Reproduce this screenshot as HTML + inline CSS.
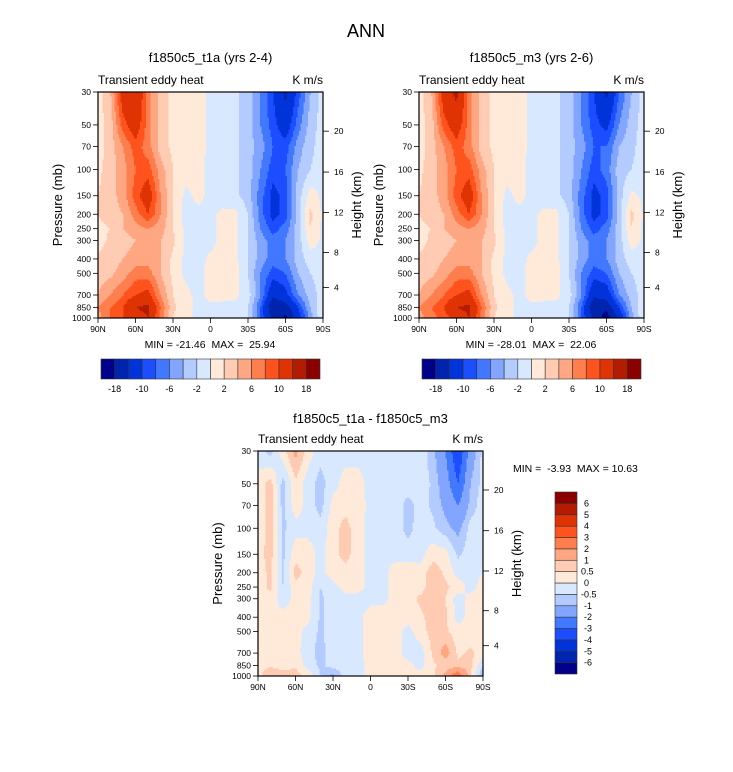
<!DOCTYPE html>
<html><head><meta charset="utf-8"><style>
body{margin:0;background:#fff}
svg{display:block;font-family:"Liberation Sans",Arial,sans-serif}
text{white-space:pre}
</style></head><body>
<svg id="fig" width="733" height="772" viewBox="0 0 733 772">
<text x="366" y="37" font-size="18" text-anchor="middle">ANN</text>
</svg>
<script>
const lats=["90N","80N","70N","60N","50N","40N","30N","20N","10N","0","10S","20S","30S","40S","50S","60S","70S","80S","90S"];
const plevs=[30,50,70,100,150,200,250,300,400,500,700,850,1000];
const pLabels=["30","50","70","100","150","200","250","300","400","500","700","850","1000"];
const latTicks=["90N","60N","30N","0","30S","60S","90S"];
const kmTicks=["4","8","12","16","20"];
const levelsMain=[-18,-14,-10,-8,-6,-4,-2,0,2,4,6,8,10,14,18];
const labelsMain=["-18","-10","-6","-2","2","6","10","18"];
const levelsDiff=[-6,-5,-4,-3,-2,-1,-0.5,0,0.5,1,2,3,4,5,6];
const labelsDiff=["6","5","4","3","2","1","0.5","0","-0.5","-1","-2","-3","-4","-5","-6"];
const colors=["#00008a","#0024ad","#0034db","#1c4dff","#4277ff","#82a6ff","#b3cbff","#d8e9ff","#ffead9","#ffcbb2","#ffa782","#ff7e4d","#ff531e","#e03304","#b31c00","#8b0000"];
const fieldT1a=[
[1,4,12,14,7,3,1.5,1,0.8,-0.5,-1,-1.5,-3,-6,-10,-15,-9,-4,-1],
[1,3,9,12,7,3,1.5,1,0.8,-0.5,-1,-1.5,-3,-6,-9,-12,-7,-3,-1],
[1,3,6,9,7,3,1.5,1,0.8,-0.5,-1,-1.5,-3,-5,-8,-9,-5,-2.5,-1],
[1.5,3,5,8,9,5,2,1,0.5,-0.5,-1,-1.5,-3,-6,-9,-8,-4,-2,-1],
[2,3,5,9,12,6,2,-0.5,0.5,-0.5,-1,-1.5,-3,-7,-11,-9,-3,1,-0.5],
[2,3,4,7,10,6,2,-1,-0.5,-0.5,0.5,0.5,-2,-7,-11,-9,-3,2.5,-0.5],
[1.5,2,4,5,6,5,2,-0.5,-0.5,-0.5,0.5,0.5,-2,-6,-9,-7,-3,2,-0.5],
[1,2.5,3,4,4.5,4,2.5,-0.3,-0.5,-0.5,0.5,0.5,-2,-5,-7,-6,-3,1,-0.5],
[2.5,3,4,5,5,4,1.5,-0.5,-0.5,0.3,0.5,0.5,-2,-5,-7,-6,-3,-1,-0.5],
[3,3.5,5,7,7,4,1.5,-0.5,-0.5,0.5,0.5,0.8,-2,-6,-9,-8,-4,-2,-1],
[4,6,8,10,11,6,2,0.5,-0.5,0.5,0.5,0.5,-1,-6,-13,-11,-6,-3,-1],
[6,8,10,14,15,8,2.5,0.5,-0.5,-0.3,-0.5,-0.8,-2,-8,-18,-16,-10,-4,0],
[5,8,10,12,14,7,2,0.5,-0.5,-0.3,-0.5,-0.8,-2,-8,-15,-19,-12,-5,0]];
const fieldM3=[
[1,4,12,15,7,3,1.5,1,0.8,-0.5,-1,-1.5,-3,-6,-10,-15,-8,-4,-1],
[1,3,9,12,7,3,1.5,1,0.8,-0.5,-1,-1.5,-3,-6,-9,-11,-6,-3,-1],
[1,3,6,9,7,3,1.5,1,0.8,-0.5,-1,-1.5,-3,-5,-8,-8,-4,-2.5,-1],
[1.5,3,5,8,9,5,2,1,0.5,-0.5,-1,-1.5,-3,-6,-9,-7,-3,-2,-1],
[2,3,5,9,12,6,2,-0.5,0.5,-0.5,-1,-1.5,-3,-7,-11,-9,-3,0.5,-0.5],
[2,3,4,7,10,6,2,-1,-0.5,-0.5,0.5,0.5,-2,-7,-11,-9,-3,2.5,-0.5],
[1.5,2,4,5,6,5,2,-0.5,-0.5,-0.5,0.5,0.5,-2,-6,-9,-7,-3,2,-0.5],
[1,2.5,3,4,4.5,4,2.5,-0.3,-0.5,-0.5,0.5,0.5,-2,-5,-7,-6,-3,1,-0.5],
[2.5,3,4,5,5,4,1.5,-0.5,-0.5,0.3,0.5,0.5,-2,-5,-7,-6,-3,-1,-0.5],
[3,3.5,5,7,7,4,1.5,-0.5,-0.5,0.5,0.5,0.8,-2,-6,-9,-8,-4,-2,-1],
[4,6,8,10,11,6,2,0.5,-0.5,0.5,0.5,0.5,-1,-6,-13,-12,-6,-3,-1],
[6,8,10,14,15,8,2.5,0.5,-0.5,-0.3,-0.5,-0.8,-2,-8,-18,-17,-10,-4,0],
[5,7,9,11,14,7,2,0.5,-0.5,-0.3,-0.5,-0.8,-2,-8,-15,-20,-13,-5,0]];
const fieldDiff=[
[-0.3,-0.7,0.3,1.2,0.3,-0.3,-0.2,-0.2,-0.2,-0.2,-0.2,-0.2,-0.2,-0.2,-0.8,-2,-4,-1.5,-0.3],
[0.2,0.7,-0.7,0.4,-0.3,-0.7,-0.2,0.2,0.2,-0.2,-0.2,-0.2,-0.2,-0.2,-0.6,-1.5,-3,-1,-0.3],
[0.2,0.7,-0.7,0.3,-0.2,-0.7,0.2,0.3,0.3,-0.2,-0.2,-0.2,-0.7,-0.3,-0.6,-1.2,-2,-0.8,-0.2],
[0.2,0.7,-0.6,-0.2,-0.2,-0.3,0.3,0.7,0.2,-0.2,-0.2,-0.2,-0.7,-0.2,-0.4,-0.8,-1.2,-0.3,-0.2],
[0.3,0.7,-0.6,0.3,0.3,-0.2,0.3,0.7,0.2,-0.2,-0.2,-0.2,-0.2,-0.2,0.3,0.2,-0.6,-0.2,-0.2],
[0.3,0.6,-0.6,0.7,0.3,-0.2,0.3,0.3,0.2,-0.2,-0.2,0.3,0.3,0.2,0.8,0.4,-0.2,-0.2,0],
[0.3,0.6,-0.5,0.3,0.2,-0.5,-0.2,0.2,0.2,-0.2,-0.2,0.3,0.3,0.3,0.8,0.6,0.3,-0.2,0.2],
[0.3,0.3,-0.3,0.2,0.2,-0.6,-0.2,-0.2,-0.2,-0.2,-0.2,0.3,0.3,0.6,0.8,0.5,-0.3,0.2,0.2],
[0.2,0.2,0.2,0.2,0.2,-0.6,-0.2,-0.2,-0.2,0.3,0.3,0.3,0.2,0.4,0.7,0.6,-0.2,0.2,0.2],
[0.2,0.2,0.2,0.2,-0.2,-0.6,-0.2,-0.2,-0.2,0.3,0.3,0.2,-0.2,0.3,0.7,0.6,0.2,0.2,0.2],
[0.2,0.2,0.3,0.2,-0.3,-0.7,-0.2,-0.2,-0.2,0.3,0.3,0.3,-0.3,-0.3,0.6,1.3,0.4,0.6,0.3],
[0.3,0.4,0.3,0.4,-0.2,-0.6,-0.3,-0.2,-0.2,0.2,0.3,0.3,0.2,-0.2,0.4,0.7,0.6,0.7,-0.5],
[0.3,1,0.7,0.8,0.3,-0.5,-1.2,-0.2,-0.2,0.2,0.3,0.2,0.2,0.2,0.4,1.2,3,0.5,-1]];

const NS="http://www.w3.org/2000/svg";
const svg=document.getElementById('fig');
function mk(tag,attrs,parent){const e=document.createElementNS(NS,tag);for(const k in attrs)e.setAttribute(k,attrs[k]);(parent||svg).appendChild(e);return e;}
function txt(x,y,s,size,anchor,parent,rot){const e=mk('text',{x:x,y:y,'font-size':size,'text-anchor':anchor||'start'},parent);if(rot)e.setAttribute('transform','rotate(-90 '+x+' '+y+')');e.textContent=s;return e;}
function colorOf(v,levels){let i=0;while(i<levels.length&&v>=levels[i])i++;return colors[i];}

function plot(L,T,W,H,field,levels,title,titleY,name){
  const g=mk('g',{});
  
  
  const lnTop=Math.log(30),lnSpan=Math.log(1000/30);
  const yOf=p=>T+H*(Math.log(p)-lnTop)/lnSpan;
  const cells=mk('g',{},g);
  
  
  const step=1.5;
  for(let py=T;py<T+H;py+=step){
    const yc=Math.min(py+step/2,T+H);
    const lnp=lnTop+(yc-T)/H*lnSpan;
    let k=0;while(k<plevs.length-2&&Math.log(plevs[k+1])<lnp)k++;
    let f=(lnp-Math.log(plevs[k]))/(Math.log(plevs[k+1])-Math.log(plevs[k]));f=Math.max(0,Math.min(1,f));
    let runStart=L,runCol=null;
    for(let px=L;px<L+W+step;px+=step){
      let col=null;
      if(px<L+W){
        const xi=Math.min((px+step/2-L)/W,1)*(lats.length-1);
        let j=Math.min(Math.floor(xi),lats.length-2);const fx=xi-j;
        const a=field[k][j]*(1-fx)+field[k][j+1]*fx;
        const b=field[k+1][j]*(1-fx)+field[k+1][j+1]*fx;
        col=colorOf(a*(1-f)+b*f,levels);
      }
      if(col!==runCol){
        if(runCol!==null){const r=mk('rect',{x:runStart,y:py,width:Math.min(px,L+W)-runStart+0.5,height:Math.min(step,T+H-py)+0.5,fill:runCol},cells);
          
          }
        runStart=px;runCol=col;
      }
    }
  }
  mk('rect',{x:L,y:T,width:W,height:H,fill:'none',stroke:'#000','stroke-width':1.2},g);
  plevs.forEach((p,i)=>{const y=yOf(p);
    mk('line',{x1:L-5,y1:y,x2:L,y2:y,stroke:'#000','stroke-width':0.8},g);
    const t=txt(L-7,y+3,pLabels[i],8.5,'end',g);
    
    });
  latTicks.forEach((s,i)=>{const x=L+W*i/(latTicks.length-1);
    mk('line',{x1:x,y1:T+H,x2:x,y2:T+H+5,stroke:'#000','stroke-width':0.8},g);
    const t=txt(x,T+H+14,s,8.5,'middle',g);
    
    });
  const kmOff=[194.7,159.7,120,79.7,39];
  kmTicks.forEach((s,i)=>{const y=T+kmOff[i]*H/225;
    mk('line',{x1:L+W,y1:y,x2:L+W+6,y2:y,stroke:'#000','stroke-width':0.8},g);
    const t=txt(L+W+11,y+3,s,8.5,'start',g);
    
    });
  const pt=txt(L-36,T+H/2,'Pressure (mb)',13,'middle',g,true);
  
  
  const ht=txt(L+W+38,T+H/2,'Height (km)',13,'middle',g,true);
  
  
  const tt=txt(L+W/2,titleY,title,13,'middle',g);
  
  
  const lt=txt(L,T-8,'Transient eddy heat',12,'start',g);
  
  
  const ut=txt(L+W,T-8,'K m/s',12,'end',g);
  
  
  return g;
}
function hbar(L,T,W,H,name){
  const g=mk('g',{});
  
  
  const n=colors.length,bw=W/n;
  colors.forEach((c,i)=>{const r=mk('rect',{x:L+i*bw,y:T,width:bw,height:H,fill:c,stroke:'#333','stroke-width':0.6},g);
    
    });
  labelsMain.forEach((s,i)=>{const t=txt(L+bw*(1+2*i),T+H+13,s,9,'middle',g);
    
    });
}
plot(98,92,225,226,fieldT1a,levelsMain,'f1850c5_t1a (yrs 2-4)',62,'panel-t1a');
const m1=txt(210,348,'MIN = -21.46  MAX =  25.94',10.5,'middle');


hbar(101,359,219,20,'colorbar-t1a');
plot(419,92,225,226,fieldM3,levelsMain,'f1850c5_m3 (yrs 2-6)',62,'panel-m3');
const m2=txt(531,348,'MIN = -28.01  MAX =  22.06',10.5,'middle');


hbar(422,359,219,20,'colorbar-m3');
plot(258,451,225,225,fieldDiff,levelsDiff,'f1850c5_t1a - f1850c5_m3',423,'panel-difference');
const m3=txt(513,472,'MIN =  -3.93  MAX = 10.63',10.5,'start');


(function(){const g=mk('g',{});
  
  
  const L=555,T=492,W=22,H=182,n=colors.length,bh=H/n;
  colors.forEach((c,i)=>{const r=mk('rect',{x:L,y:T+(n-1-i)*bh,width:W,height:bh,fill:c,stroke:'#333','stroke-width':0.6},g);
    
    });
  labelsDiff.forEach((s,i)=>{const t=txt(L+W+(s.length>2?4:7),T+bh*(i+1)+3,s,9,'start',g);
    
    });
})();
</script>
</body></html>
